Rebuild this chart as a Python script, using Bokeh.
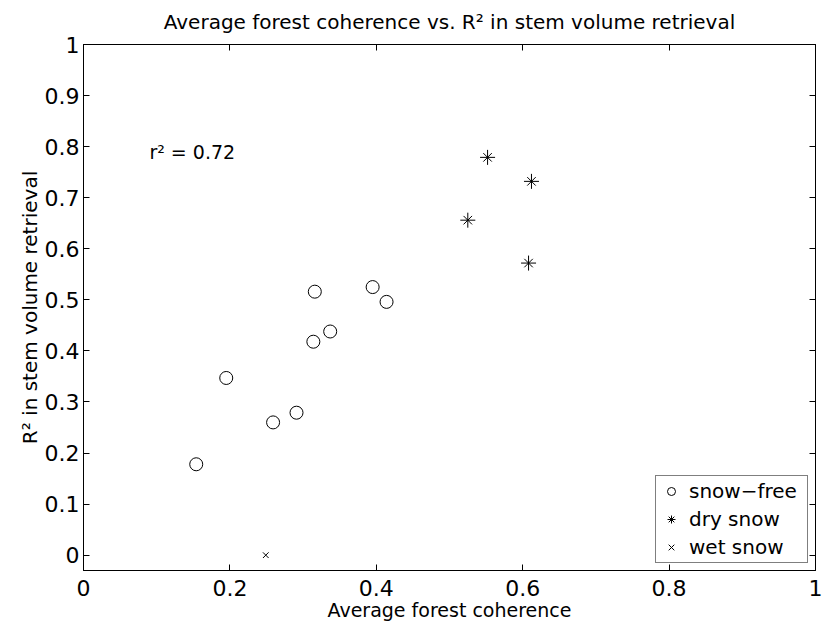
from bokeh.plotting import figure
from bokeh.models import (LinearAxis, FixedTicker, CustomJSTickFormatter, Range1d,
                          Legend, LegendItem, Label, CustomLabelingPolicy)
from bokeh.embed import file_html
from bokeh.resources import INLINE

# Data
snow_free_x = [0.154, 0.195, 0.259, 0.291, 0.314, 0.316, 0.337, 0.395, 0.414]
snow_free_y = [0.178, 0.347, 0.260, 0.279, 0.418, 0.516, 0.438, 0.525, 0.496]
dry_snow_x = [0.525, 0.552, 0.612, 0.608]
dry_snow_y = [0.656, 0.779, 0.732, 0.572]
wet_snow_x = [0.249]
wet_snow_y = [0.0]
x_ticks = [0, 0.2, 0.4, 0.6, 0.8, 1]
y_ticks = [0, 0.1, 0.2, 0.3, 0.4, 0.5, 0.6, 0.7, 0.8, 0.9, 1]
title_text = "Average forest coherence vs. R² in stem volume retrieval"
annotation = "r² = 0.72"

FONT = "DejaVu Sans"

p = figure(width=823, height=626, output_backend="svg", toolbar_location=None,
           x_range=Range1d(0, 1), y_range=Range1d(-0.03, 1),
           min_border_left=83, min_border_right=8, min_border_top=44, min_border_bottom=56,
           x_axis_location=None, y_axis_location=None)
p.grid.visible = False
p.outline_line_color = "black"
p.outline_line_width = 1
p.background_fill_color = "white"
p.border_fill_color = "white"

p.title.text = title_text
p.title.align = "center"
p.title.vertical_align = "top"
p.title.text_font = FONT
p.title.text_font_size = "20px"
p.title.text_font_style = "normal"
p.title.text_color = "black"
p.title.standoff = 17

fmt = CustomJSTickFormatter(code="return Number(tick.toFixed(2)).toString();")

def make_axis(ticks, show_labels, label=None, label_size="19px", standoff=6):
    ax = LinearAxis(ticker=FixedTicker(ticks=ticks), formatter=fmt)
    ax.major_tick_in = 6
    ax.major_tick_out = 0
    ax.minor_tick_in = 0
    ax.minor_tick_out = 0
    ax.axis_line_color = "black"
    ax.major_tick_line_color = "black"
    if show_labels:
        ax.major_label_text_font = FONT
        ax.major_label_text_font_size = "22px"
        ax.major_label_text_color = "black"
        ax.major_label_standoff = standoff
        if label:
            ax.axis_label = label
            ax.axis_label_text_font = FONT
            ax.axis_label_text_font_size = label_size
            ax.axis_label_text_font_style = "normal"
            ax.axis_label_text_color = "black"
            ax.axis_label_standoff = 0
    else:
        ax.major_label_policy = CustomLabelingPolicy(
            code="for (const i of indices) indices.unset(i)")
        ax.major_label_text_font_size = "0px"
        ax.major_label_standoff = 0
    return ax

p.add_layout(make_axis(x_ticks, True, "Average forest coherence", "19px", 9), "below")
p.add_layout(make_axis(y_ticks, True, "R² in stem volume retrieval", "20px", 4), "left")
p.add_layout(make_axis(x_ticks, False), "above")
p.add_layout(make_axis(y_ticks, False), "right")

r_free = p.scatter(snow_free_x, snow_free_y, marker="circle", size=13,
                   fill_color=None, line_color="black", line_width=1)
r_dry1 = p.scatter(dry_snow_x, dry_snow_y, marker="cross", size=15,
                   line_color="black", line_width=1)
r_dry2 = p.scatter(dry_snow_x, dry_snow_y, marker="x", size=12,
                   line_color="black", line_width=1)
r_wet = p.scatter(wet_snow_x, wet_snow_y, marker="x", size=8,
                  line_color="black", line_width=1)

p.add_layout(Label(x=0.09, y=0.79, text=annotation, text_font=FONT,
                   text_font_size="19px", text_baseline="middle", text_align="left",
                   text_color="black"))

legend = Legend(items=[
    LegendItem(label="snow−free", renderers=[r_free]),
    LegendItem(label="dry snow", renderers=[r_dry1, r_dry2]),
    LegendItem(label="wet snow", renderers=[r_wet]),
], location="bottom_right")
legend.margin = 7
legend.padding = 3
legend.spacing = 4
legend.label_text_font = FONT
legend.label_text_font_size = "20px"
legend.label_text_color = "black"
legend.label_height = 20
legend.label_width = 115
legend.glyph_height = 20
legend.glyph_width = 24
legend.label_standoff = 6
legend.border_line_color = "black"
legend.border_line_width = 1
legend.background_fill_alpha = 1
p.add_layout(legend, "center")

open("out.html", "w").write(file_html(p, INLINE))
